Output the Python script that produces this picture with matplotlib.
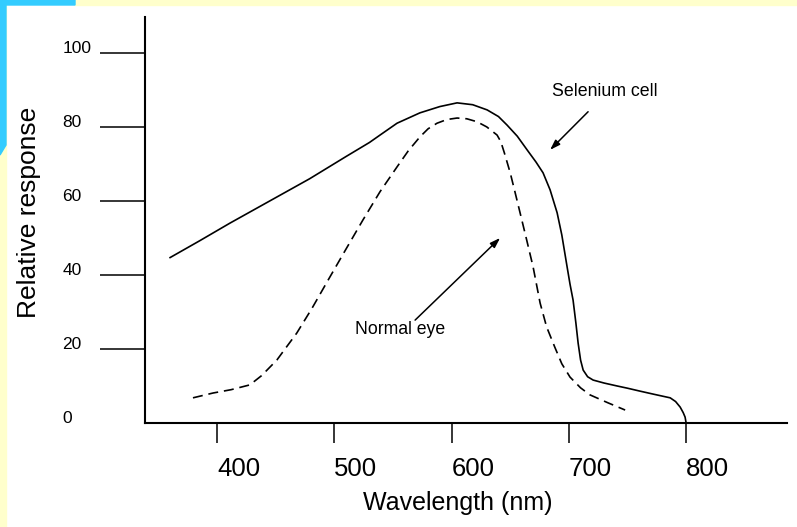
import matplotlib
matplotlib.use("Agg")
import matplotlib.pyplot as plt
from matplotlib.patches import Polygon, Rectangle

plt.rcParams['font.family'] = ['Liberation Sans', 'DejaVu Sans']

# selenium cell response (solid line)
selenium_x = [360, 385, 411, 445, 479, 510, 530, 539, 553.5, 573, 590, 604.7, 618,
              630.3, 640, 647.3, 656, 664.4, 672, 678, 684, 690, 694, 698.5,
              701, 703.6, 706, 707.9, 710, 712.2, 716, 720.7, 730, 741.2, 750,
              760.8, 772, 786.4, 791, 794.9, 797.5, 799.1, 800]
selenium_y = [44.7, 49.2, 54, 60, 66, 72, 75.8, 77.8, 81, 83.8, 85.5, 86.5, 86,
              84.6, 82.8, 80.5, 77.5, 73.8, 70.5, 67.6, 63, 56.8, 50.8, 42.2,
              37.5, 33.2, 27, 21.6, 17, 14.3, 12.5, 11.6, 10.8, 10.0, 9.4,
              8.6, 7.8, 6.8, 5.8, 4.3, 2.8, 1.6, 0]

# normal eye response (dashed line)
eye_x = [379.5, 396.6, 412, 428, 438, 451, 468, 481, 494.7, 510, 524.5, 539,
         553.5, 563, 573, 580, 587.6, 596, 604.7, 613, 621.7, 630, 638.8, 642,
         645, 650, 654, 658.4, 664, 669.5, 675.5, 681, 688, 694, 701, 710,
         718, 733, 748]
eye_y = [6.8, 8.1, 9, 10.3, 12.8, 17, 24.3, 31, 38.6, 47, 54.9, 62.5,
         69.2, 73.5, 77.3, 79.5, 81, 82, 82.4, 82.2, 81.4, 80, 77.8, 76,
         73, 67.6, 62.5, 56.8, 49.5, 42.2, 32.4, 26, 20.5, 16, 12.4, 9.5,
         7.6, 5.5, 3.5]

xticks = [400, 500, 600, 700, 800]
yticks = [0, 20, 40, 60, 80, 100]

W, H = 797, 527
fig = plt.figure(figsize=(W / 100, H / 100), dpi=100)

# coloured frame strips (top and left)
cyan = '#33CCFF'
yellow = '#FFFFCC'
fig.patches.append(Rectangle((75 / W, 1 - 5 / H), 1 - 75 / W, 5 / H,
                             transform=fig.transFigure, color=yellow, zorder=0))
fig.patches.append(Rectangle((0, 0), 6 / W, 1, transform=fig.transFigure,
                             color=yellow, zorder=0))
fig.patches.append(Polygon([(0, 1), (75 / W, 1), (75 / W, 1 - 5 / H), (6 / W, 1 - 5 / H),
                            (6 / W, 1 - 145 / H), (0, 1 - 155 / H)], closed=True,
                           transform=fig.transFigure, color=cyan, zorder=0))

ax = fig.add_axes([145 / W, (H - 423) / H, (787 - 145) / W, (423 - 17) / H])
ax.patch.set_alpha(0)

ax.plot(selenium_x, selenium_y, color='black', lw=1.2)
ax.plot(eye_x, eye_y, color='black', lw=1.2, linestyle=(0, (6, 3.5)))

ax.set_xlim(338.6, 886)
ax.set_ylim(0, 109.7)

for side in ['top', 'right']:
    ax.spines[side].set_visible(False)
for side in ['left', 'bottom']:
    ax.spines[side].set_linewidth(1.5)

ax.set_xticks(xticks)
ax.set_xticklabels([str(v) for v in xticks])
ax.set_yticks(yticks)
ax.set_yticklabels([str(v) for v in yticks])

ax.tick_params(axis='x', direction='out', length=14.5, width=1.1, pad=10,
               labelsize=18.5)
ax.tick_params(axis='y', direction='out', length=32.5, width=1.1, pad=27,
               labelsize=12.5)
for lab in ax.get_xticklabels():
    lab.set_horizontalalignment('left')
for lab in ax.get_yticklabels():
    lab.set_horizontalalignment('left')
    lab.set_verticalalignment('baseline')
ax.yaxis.get_major_ticks()[0].tick1line.set_visible(False)

ax.set_xlabel('Wavelength (nm)', fontsize=18, va='center')
ax.xaxis.set_label_coords(0.487, -0.197)
ax.set_ylabel('Relative response', fontsize=19, va='center')
ax.yaxis.set_label_coords(-0.18, 0.52)

# annotations
arrow = dict(arrowstyle='-|>,head_length=0.6,head_width=0.2', color='black',
             lw=1.1, shrinkA=0, shrinkB=0)
ax.annotate('', xy=(684, 73.8), xytext=(716.4, 84.1), arrowprops=arrow)
ax.text(685.7, 89.5, 'Selenium cell', fontsize=12.8, ha='left', va='center')
ax.annotate('', xy=(641.4, 50), xytext=(568.9, 27.8), arrowprops=arrow)
ax.text(556, 25.3, 'Normal eye', fontsize=12.7, ha='center', va='center')

fig.savefig('out.png', dpi=100)
